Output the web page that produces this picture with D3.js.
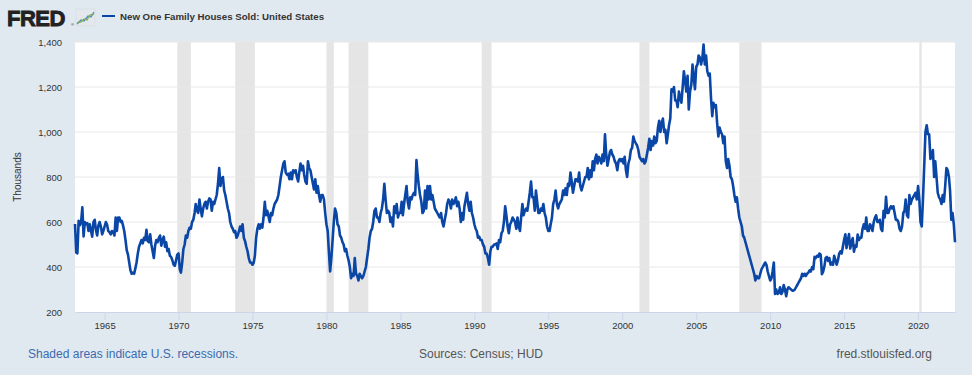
<!DOCTYPE html>
<html>
<head>
<meta charset="utf-8">
<script src="https://cdn.jsdelivr.net/npm/d3@7"></script>
<style>
  html, body { margin: 0; padding: 0; background: #e1e9f0; }
  svg { display: block; font-family: "Liberation Sans", Arial, sans-serif; }
</style>
</head>
<body>
<svg id="chart"></svg>
<script>
const width = 972, height = 375;
const margin = { top: 42, right: 17, bottom: 63, left: 75 };
const plotWidth = width - margin.left - margin.right;
const plotHeight = height - margin.top - margin.bottom;

// Monthly values, thousands (SAAR), Jan 1963 .. Jul 2022
const startYear = 1963;
const sold = [
  591,464,461,605,586,599,665,536,600,590,595,560,   // 1963
  590,560,535,600,610,565,540,585,600,580,545,560,   // 1964
  580,600,590,560,555,545,560,555,540,620,560,620,   // 1965
  620,600,605,585,560,520,475,455,420,385,370,375,   // 1966
  370,395,420,460,490,505,520,505,530,520,565,515,   // 1967
  510,545,500,470,440,495,520,510,530,540,495,520,   // 1968
  535,490,510,470,480,450,445,430,410,405,430,455,   // 1969
  460,390,375,420,480,500,540,530,560,575,570,600,   // 1970
  610,640,680,650,640,700,660,625,660,680,690,660,   // 1971
  690,705,700,650,690,680,700,720,770,840,760,790,   // 1972
  800,740,720,690,660,640,600,580,570,555,560,530,   // 1973
  540,560,580,560,590,530,515,490,470,440,420,420,   // 1974
  410,420,450,530,570,590,570,590,575,620,690,630,   // 1975
  650,625,600,640,630,660,680,690,700,720,760,800,   // 1976
  830,860,870,820,810,815,790,820,790,830,820,830,   // 1977
  800,780,820,860,830,850,810,780,770,870,840,830,   // 1978
  800,770,745,790,730,760,720,690,720,720,700,640,   // 1979
  590,560,470,380,440,520,600,660,640,590,580,540,   // 1980
  530,510,500,470,480,450,430,400,350,370,360,440,   // 1981
  370,360,340,370,360,350,360,380,400,440,480,530,   // 1982
  560,570,600,650,660,620,620,600,640,660,700,770,   // 1983
  700,640,650,640,600,620,580,670,640,680,620,640,   // 1984
  640,690,630,680,720,760,690,660,710,700,720,730,   // 1985
  720,875,810,760,720,690,640,650,740,660,760,700,   // 1986
  760,700,720,690,660,650,640,630,620,640,600,580,   // 1987
  610,640,680,700,690,660,700,680,690,710,670,690,   // 1988
  660,600,640,610,670,700,730,680,650,690,640,620,   // 1989
  590,570,560,530,535,520,520,500,490,460,460,440,   // 1990
  410,470,490,490,500,500,505,480,520,510,550,560,   // 1991
  600,670,630,580,550,590,600,620,610,600,570,620,   // 1992
  580,560,620,680,630,650,660,650,690,730,780,710,   // 1993
  710,650,740,690,640,640,660,650,680,640,620,580,   // 1994
  560,560,590,620,680,700,740,680,660,680,690,700,   // 1995
  740,720,750,720,770,760,820,780,730,760,790,790,   // 1996
  780,820,760,740,760,780,800,800,840,790,830,800,   // 1997
  870,830,880,900,860,890,880,860,900,870,990,900,   // 1998
  850,880,910,920,900,890,870,860,830,870,880,870,   // 1999
  880,860,890,830,800,860,880,920,930,980,960,950,   // 2000
  940,920,890,880,870,880,860,870,900,930,970,920,   // 2001
  960,940,980,950,960,1020,1050,1000,1040,1060,1000,1010,   // 2002
  950,990,1030,1060,1190,1180,1200,1140,1140,1110,1180,1150, // 2003
  1130,1200,1270,1230,1180,1250,1100,1180,1210,1300,1240,1190, // 2004
  1290,1300,1340,1330,1300,1330,1389,1300,1340,1270,1250,1260, // 2005
  1150,1070,1130,1110,1120,1040,980,1020,1000,990,950,980,  // 2006
  870,840,880,850,800,790,760,720,690,710,660,620,   // 2007
  600,580,540,530,510,490,470,450,430,410,390,370,   // 2008
  340,360,350,350,370,390,400,410,420,410,380,360,   // 2009
  340,350,380,420,280,300,280,285,310,280,290,320,   // 2010
  300,270,300,310,305,300,295,295,300,310,320,330,   // 2011
  340,350,370,360,370,360,370,375,385,380,400,390,   // 2012
  445,440,450,446,460,455,368,379,403,440,445,427,   // 2013
  440,410,420,410,450,430,410,430,460,470,460,490,   // 2014
  521,545,484,517,546,482,507,529,468,495,490,544,   // 2015
  520,530,530,570,590,570,620,560,560,590,580,560,   // 2016
  600,620,630,600,600,610,570,560,650,620,712,640,   // 2017
  640,660,670,660,670,640,610,610,600,570,560,580,   // 2018
  640,650,700,630,620,720,680,700,710,720,730,700,   // 2019
  760,700,600,580,700,850,1000,1030,990,990,880,890, // 2020
  920,800,870,800,730,710,700,680,720,690,760,840,   // 2021
  830,800,740,610,640,590,510                        // 2022
];

// Recessions (start, end) as [year, month index]
const recessions = [
  [[1969, 11], [1970, 10]],
  [[1973, 10], [1975, 2]],
  [[1980, 0], [1980, 6]],
  [[1981, 6], [1982, 10]],
  [[1990, 6], [1991, 2]],
  [[2001, 2], [2001, 10]],
  [[2007, 11], [2009, 5]],
  [[2020, 1], [2020, 3]]
];

const yTicks = [200, 400, 600, 800, 1000, 1200, 1400];
const xTickYears = [1965, 1970, 1975, 1980, 1985, 1990, 1995, 2000, 2005, 2010, 2015, 2020];

const data = sold.map((v, i) => ({ date: new Date(startYear, i, 1), value: v }));

const svg = d3.select("#chart")
    .attr("width", width)
    .attr("height", height);

svg.append("rect")
    .attr("width", width)
    .attr("height", height)
    .attr("fill", "#e1e9f0");

// Scales
const xScale = d3.scaleTime()
    .domain([new Date(startYear, 0, 1), data[data.length - 1].date])
    .range([margin.left, margin.left + plotWidth]);
const yScale = d3.scaleLinear()
    .domain([200, 1400])
    .range([margin.top + plotHeight, margin.top]);

// Plot background
svg.append("rect")
    .attr("x", margin.left)
    .attr("y", margin.top)
    .attr("width", plotWidth)
    .attr("height", plotHeight)
    .attr("fill", "#ffffff");

// Recession shading
svg.append("g")
    .selectAll("rect")
    .data(recessions)
    .enter()
    .append("rect")
    .attr("x", d => xScale(new Date(d[0][0], d[0][1], 1)))
    .attr("width", d => xScale(new Date(d[1][0], d[1][1], 1)) - xScale(new Date(d[0][0], d[0][1], 1)))
    .attr("y", margin.top)
    .attr("height", plotHeight)
    .attr("fill", "#e5e5e5");

// Gridlines
svg.append("g")
    .selectAll("line")
    .data(yTicks.slice(1))
    .enter()
    .append("line")
    .attr("x1", margin.left)
    .attr("x2", margin.left + plotWidth)
    .attr("y1", d => yScale(d))
    .attr("y2", d => yScale(d))
    .attr("stroke", "#e8e8e8")
    .attr("stroke-width", 1);

// X axis
const xAxis = svg.append("g")
    .attr("transform", `translate(0,${margin.top + plotHeight})`)
    .call(d3.axisBottom(xScale)
        .tickValues(xTickYears.map(y => new Date(y, 0, 1)))
        .tickFormat(d3.timeFormat("%Y"))
        .tickSize(8)
        .tickPadding(2)
        .tickSizeOuter(0));
xAxis.select(".domain").attr("stroke", "#ccd6eb");
xAxis.selectAll(".tick line").attr("stroke", "#ccd6eb");
xAxis.selectAll("text")
    .attr("fill", "#333")
    .style("font-size", "9.5px");

// Y axis labels
const yAxis = svg.append("g")
    .attr("transform", `translate(${margin.left},0)`)
    .call(d3.axisLeft(yScale)
        .tickValues(yTicks)
        .tickFormat(d3.format(","))
        .tickSize(0)
        .tickPadding(13));
yAxis.select(".domain").remove();
yAxis.selectAll("text")
    .attr("fill", "#333")
    .style("font-size", "9.5px");

svg.append("text")
    .attr("transform", `translate(20.5,${margin.top + plotHeight / 2}) rotate(-90)`)
    .attr("text-anchor", "middle")
    .attr("fill", "#333")
    .style("font-size", "10px")
    .text("Thousands");

// Series line
const lineGenerator = d3.line()
    .x(d => xScale(d.date))
    .y(d => yScale(d.value));

svg.append("path")
    .datum(data)
    .attr("d", lineGenerator)
    .attr("fill", "none")
    .attr("stroke", "#0a46a6")
    .attr("stroke-width", 2.6)
    .attr("stroke-linejoin", "round");

// Header: FRED logo, icon and legend
svg.append("text")
    .attr("x", 7)
    .attr("y", 26)
    .attr("fill", "#222")
    .attr("stroke", "#222")
    .attr("stroke-width", 0.9)
    .style("font-size", "22px")
    .style("font-weight", "bold")
    .style("letter-spacing", "-0.5px")
    .text("FRED");
svg.append("text")
    .attr("x", 71)
    .attr("y", 26)
    .attr("fill", "#222")
    .style("font-size", "4px")
    .text("®");

const icon = svg.append("g").attr("transform", "translate(76,9)");
icon.append("rect")
    .attr("width", 19)
    .attr("height", 17)
    .attr("fill", "#e4e8ec")
    .attr("stroke", "#cfd6dd")
    .attr("stroke-width", 0.5);
icon.append("polyline")
    .attr("points", "1,15 5,11 8,12 12,7 15,8 18,3")
    .attr("fill", "none")
    .attr("stroke", "#4f86c6")
    .attr("stroke-width", 1.3);
icon.append("polyline")
    .attr("points", "1,14 5,13 8,10 11,11 14,6 18,5")
    .attr("fill", "none")
    .attr("stroke", "#7fb04f")
    .attr("stroke-width", 1.3);

svg.append("line")
    .attr("x1", 102)
    .attr("x2", 115)
    .attr("y1", 16)
    .attr("y2", 16)
    .attr("stroke", "#0a46a6")
    .attr("stroke-width", 2);
svg.append("text")
    .attr("x", 120)
    .attr("y", 20)
    .attr("fill", "#333")
    .style("font-size", "9.7px")
    .style("font-weight", "bold")
    .text("New One Family Houses Sold: United States");

// Footer
svg.append("text")
    .attr("x", 28)
    .attr("y", 358)
    .attr("fill", "#3a6bb0")
    .style("font-size", "12px")
    .text("Shaded areas indicate U.S. recessions.");
svg.append("text")
    .attr("x", 481)
    .attr("y", 358)
    .attr("text-anchor", "middle")
    .attr("fill", "#555")
    .style("font-size", "12px")
    .text("Sources: Census; HUD");
svg.append("text")
    .attr("x", 932)
    .attr("y", 358)
    .attr("text-anchor", "end")
    .attr("fill", "#555")
    .style("font-size", "12px")
    .text("fred.stlouisfed.org");
</script>
</body>
</html>
